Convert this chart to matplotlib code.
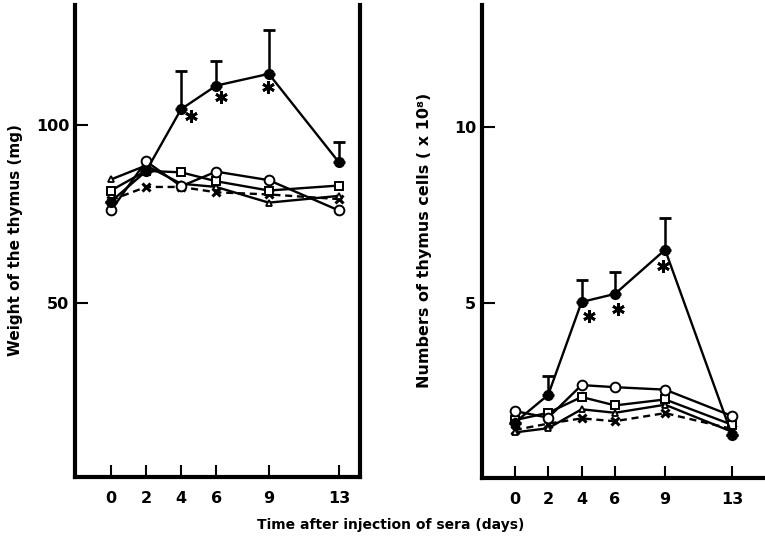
import matplotlib.pyplot as plt
import numpy as np

days = [0, 2, 4, 6, 9, 13]
day_ticks = ["0", "2", "4", "6", "9", "13"]

# thymus weight (mg)
w_filled = [78.5, 87.0, 104.4, 111.0, 114.3, 89.5]
w_filled_top = [78.5, 87.0, 115.0, 118.0, 126.5, 95.3]
w_circle = [76.0, 89.8, 82.8, 86.9, 84.5, 76.0]
w_square = [81.6, 87.1, 86.7, 84.2, 81.6, 83.0]
w_triangle = [84.7, 88.6, 83.5, 82.6, 78.2, 80.1]
w_cross = [78.9, 82.6, 82.6, 81.1, 80.5, 79.2]
w_star_x = [4.57, 6.3, 8.95]
w_star_y = [102.4, 107.7, 110.5]

# thymus cells (x 10^8)
c_filled = [1.58, 2.37, 5.02, 5.25, 6.51, 1.23]
c_filled_top = [1.58, 2.90, 5.66, 5.87, 7.42, 1.23]
c_circle = [1.91, 1.72, 2.65, 2.59, 2.52, 1.77]
c_square = [1.65, 1.86, 2.31, 2.07, 2.24, 1.52]
c_triangle = [1.30, 1.42, 1.96, 1.86, 2.09, 1.32]
c_cross = [1.37, 1.55, 1.70, 1.62, 1.85, 1.40]
c_star_x = [4.42, 6.17, 8.85]
c_star_y = [4.61, 4.82, 6.04]

plt.rcParams["font.family"] = "DejaVu Sans"

fig = plt.figure(figsize=(7.65, 5.41), dpi=100)
ax1 = fig.add_axes([75 / 765, 1 - 477 / 541, (360 - 75) / 765, (477 - 5) / 541])
ax2 = fig.add_axes([481.7 / 765, 1 - 478 / 541, (765 - 481.7) / 765, (478 - 5) / 541])


def draw_panel(ax, filled, filled_top, circle, square, triangle, cross, star_x, star_y):
    lw = 1.7
    ax.plot(days, cross, color="black", lw=lw, ls=(0, (3, 2)), marker="x",
            ms=6, mew=2.2, zorder=3)
    ax.plot(days, triangle, color="black", lw=lw, marker="^", ms=5,
            mfc="white", mec="black", mew=1.3, zorder=4)
    ax.plot(days, square, color="black", lw=lw, marker="s", ms=5.5,
            mfc="white", mec="black", mew=1.4, zorder=4)
    ax.plot(days, circle, color="black", lw=lw, marker="o", ms=7,
            mfc="white", mec="black", mew=1.4, zorder=4)

    err = np.array(filled_top) - np.array(filled)
    ax.errorbar(days, filled, yerr=[np.zeros(len(days)), err], color="black",
                lw=lw, marker="o", ms=7, mfc="black", mec="black",
                capsize=4, capthick=2, elinewidth=1.8, zorder=5)
    # significance marks
    ax.plot(star_x, star_y, ls="none", marker=(6, 2, 0), ms=9, mew=2,
            color="black", zorder=6)

    ax.set_xticks(days)
    ax.set_xticklabels(day_ticks)
    ax.tick_params(axis="both", direction="in", length=9, width=1.5,
                   labelsize=11.5)
    ax.tick_params(axis="x", pad=10)
    ax.tick_params(axis="y", pad=4)
    for lab in ax.get_xticklabels() + ax.get_yticklabels():
        lab.set_fontweight("bold")
    ax.spines["top"].set_visible(False)
    for s in ("left", "bottom", "right"):
        ax.spines[s].set_linewidth(3)


draw_panel(ax1, w_filled, w_filled_top, w_circle, w_square, w_triangle,
           w_cross, w_star_x, w_star_y)
ax1.set_xlim(-2.05, 14.2)
ax1.set_ylim(1.3, 133.6)
ax1.set_yticks([50, 100])

draw_panel(ax2, c_filled, c_filled_top, c_circle, c_square, c_triangle,
           c_cross, c_star_x, c_star_y)
ax2.spines["right"].set_visible(False)
ax2.set_xlim(-1.98, 14.98)
ax2.set_ylim(0, 13.49)
ax2.set_yticks([5, 10])

fig.text(16 / 765, 1 - 240 / 541, "Weight of the thymus (mg)", rotation=90,
         ha="center", va="center", fontsize=11, fontweight="bold")
fig.text(425 / 765, 1 - 240 / 541, "Numbers of thymus cells ( x 10⁸)",
         rotation=90, ha="center", va="center", fontsize=11.5, fontweight="bold")
fig.text(391 / 765, 1 - 525 / 541, "Time after injection of sera (days)",
         ha="center", va="center", fontsize=10, fontweight="bold")

fig.savefig("out.png", dpi=100)
